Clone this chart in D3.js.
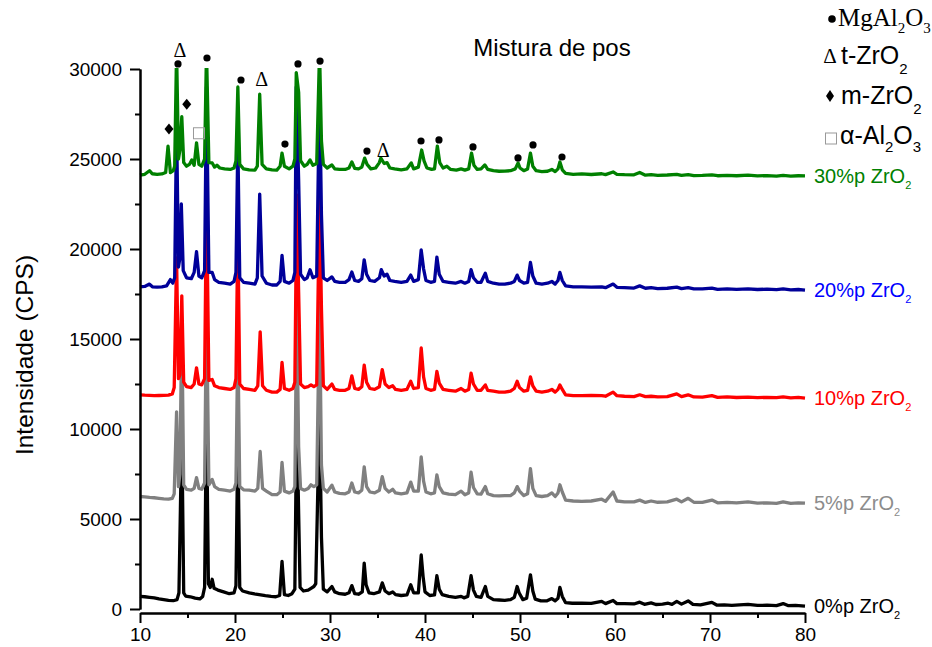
<!DOCTYPE html>
<html>
<head>
<meta charset="utf-8">
<script src="https://cdn.jsdelivr.net/npm/d3@7/dist/d3.min.js"></script>
<style>
body { margin: 0; background: #fff; }
</style>
</head>
<body>
<div id="chart"></div>
<script>
// 2theta / intensity pairs, one array per sample
var s0 = [[10.0,700],[10.5,680],[11,650],[11.5,620],[12,560],[12.5,520],[13,480],[13.5,460],[13.9,520],[14.1,900],[14.4,10000],[14.6,900],[14.8,720],[15.3,680],[15.8,600],[16.3,560],[16.6,700],[16.8,1200],[17.0,11000],[17.2,1400],[17.4,1200],[17.6,1650],[17.8,1150],[18.2,1050],[18.8,950],[19.4,850],[19.9,900],[20.1,1300],[20.3,9500],[20.5,1200],[20.8,1000],[21.5,900],[22.2,820],[22.7,780],[23.2,740],[23.8,700],[24.3,680],[24.7,750],[24.95,2650],[25.2,800],[25.6,750],[26.0,850],[26.3,1100],[26.5,11000],[26.7,5300],[26.85,1200],[27.2,1000],[27.7,1050],[28.0,1150],[28.3,1250],[28.5,1400],[28.9,11000],[29.1,4000],[29.3,1100],[29.7,950],[30.2,1250],[30.5,950],[31,850],[31.6,820],[32.0,900],[32.3,1300],[32.6,850],[33.0,820],[33.4,950],[33.6,2550],[33.8,1350],[34.1,900],[34.6,850],[35.2,950],[35.5,1450],[35.8,1000],[36.2,850],[36.6,950],[36.9,800],[37.5,750],[38.1,780],[38.5,1350],[38.8,900],[39.3,900],[39.6,3000],[39.8,1800],[40.0,950],[40.5,750],[41.0,780],[41.25,1850],[41.5,1100],[41.8,800],[42.5,700],[43.2,650],[43.8,700],[44.1,620],[44.5,700],[44.85,1850],[45.1,1050],[45.4,700],[45.9,650],[46.35,1250],[46.6,700],[47.2,520],[47.8,500],[48.4,480],[49.0,520],[49.4,650],[49.7,1250],[49.9,900],[50.3,520],[50.7,600],[51.1,1900],[51.35,1000],[51.6,550],[52.2,450],[52.8,450],[53.35,580],[53.7,450],[54.0,600],[54.2,1200],[54.45,700],[54.8,350],[55.5,320],[56.5,330],[57.5,310],[58.6,420],[59.0,300],[59.8,470],[60.2,300],[61.0,300],[62.0,280],[62.6,380],[63.1,260],[63.8,340],[64.3,250],[65.0,270],[65.6,320],[66.0,260],[66.5,420],[67.0,270],[67.7,450],[68.2,260],[69.0,230],[70.2,370],[70.7,220],[71.5,230],[72.3,200],[73.1,230],[74.0,260],[75.0,200],[76.0,210],[77.0,190],[77.7,300],[78.2,190],[79.0,200],[80.0,160]];

var s5 = [[10.0,6250],[10.5,6230],[11,6200],[11.5,6180],[12,6150],[12.5,6120],[13,6100],[13.4,6150],[13.6,6400],[13.85,10950],[14.05,6800],[14.2,7500],[14.4,16000],[14.6,6900],[14.9,6650],[15.4,6600],[15.7,6700],[15.95,7300],[16.2,6700],[16.5,6650],[16.8,7000],[17.0,17000],[17.25,6900],[17.6,7200],[17.85,6800],[18.3,6650],[18.9,6600],[19.5,6550],[19.9,6650],[20.1,7000],[20.3,15000],[20.5,6800],[20.9,6620],[21.5,6600],[22.1,6550],[22.4,6700],[22.65,8750],[22.9,6700],[23.3,6550],[23.9,6350],[24.4,6350],[24.75,6500],[24.95,8150],[25.2,6550],[25.7,6450],[26.1,6550],[26.3,6800],[26.5,17000],[26.7,9000],[26.9,6700],[27.3,6600],[27.7,6700],[28.0,6900],[28.3,6800],[28.6,6900],[28.9,17000],[29.1,8000],[29.3,6700],[29.7,6500],[30.2,6880],[30.5,6500],[31.0,6420],[31.6,6400],[32.0,6500],[32.3,7000],[32.6,6500],[33.0,6450],[33.35,6600],[33.6,7900],[33.85,6800],[34.2,6500],[34.7,6450],[35.2,6600],[35.5,7350],[35.8,6700],[36.2,6500],[36.6,6650],[36.9,6450],[37.5,6400],[38.1,6450],[38.5,7050],[38.8,6550],[39.3,6550],[39.6,8450],[39.85,7100],[40.1,6500],[40.6,6400],[41.0,6450],[41.25,7450],[41.5,6800],[41.9,6450],[42.5,6380],[43.2,6350],[43.8,6550],[44.2,6350],[44.6,6450],[44.85,7600],[45.1,6750],[45.5,6400],[45.9,6380],[46.35,6800],[46.6,6400],[47.2,6300],[47.8,6280],[48.4,6300],[49.0,6300],[49.4,6450],[49.7,6800],[49.95,6550],[50.4,6300],[50.8,6400],[51.1,7800],[51.35,6700],[51.7,6300],[52.3,6250],[52.9,6300],[53.35,6450],[53.7,6250],[54.0,6450],[54.2,6900],[54.45,6500],[54.8,6050],[55.6,6000],[56.5,5980],[57.5,6000],[58.6,6100],[59.0,5980],[59.8,6500],[60.2,6000],[61,5950],[62,5950],[62.6,6050],[63.2,5920],[63.8,6000],[64.5,5930],[65.5,5950],[66.5,6100],[67.0,5950],[67.7,6150],[68.3,5930],[69.2,5920],[70.2,6050],[70.8,5900],[71.8,5920],[72.8,5900],[74.0,5950],[75.0,5880],[76.0,5900],[77.0,5870],[77.7,5950],[78.5,5870],[79.3,5900],[80.0,5880]];

var s10 = [[10.0,11900],[10.5,11880],[11,11870],[11.5,11850],[12,11860],[12.5,11870],[13,11880],[13.4,11950],[13.6,12300],[13.85,19500],[14.05,12800],[14.2,13000],[14.4,17400],[14.6,12600],[14.9,12350],[15.4,12300],[15.7,12500],[15.95,13400],[16.2,12500],[16.5,12450],[16.8,12800],[17.0,23000],[17.25,12700],[17.6,12750],[17.85,12400],[18.3,12300],[18.9,12250],[19.5,12200],[19.9,12300],[20.1,12800],[20.3,21000],[20.5,12500],[20.9,12250],[21.5,12200],[22.1,12150],[22.4,12400],[22.65,15400],[22.9,12400],[23.3,12150],[23.9,12050],[24.4,12050],[24.75,12200],[24.95,13700],[25.2,12250],[25.7,12150],[26.1,12250],[26.3,12600],[26.5,23000],[26.7,17600],[26.9,12500],[27.3,12300],[27.7,12350],[28.0,12450],[28.3,12350],[28.6,12450],[28.9,23000],[29.1,16700],[29.3,12400],[29.7,12200],[30.2,12500],[30.5,12200],[31,12150],[31.6,12150],[32.0,12250],[32.3,12950],[32.6,12250],[33.0,12200],[33.35,12350],[33.6,13550],[33.85,12600],[34.2,12250],[34.7,12200],[35.2,12350],[35.5,13300],[35.8,12500],[36.2,12300],[36.6,12400],[36.9,12200],[37.5,12150],[38.1,12200],[38.5,12650],[38.8,12250],[39.3,12300],[39.6,14500],[39.85,12900],[40.1,12250],[40.6,12150],[41.0,12200],[41.25,13200],[41.5,12550],[41.9,12200],[42.5,12150],[43.2,12100],[43.8,12250],[44.2,12100],[44.6,12200],[44.85,13100],[45.1,12500],[45.5,12150],[45.9,12150],[46.35,12450],[46.6,12150],[47.2,12100],[47.8,12050],[48.4,12050],[49.0,12100],[49.4,12250],[49.7,12650],[49.95,12300],[50.4,12100],[50.8,12150],[51.1,12900],[51.35,12400],[51.7,12100],[52.3,12050],[52.9,12100],[53.35,12200],[53.7,12050],[54.0,12200],[54.2,12450],[54.45,12200],[54.8,11900],[55.6,11850],[56.5,11850],[57.5,11870],[58.6,11850],[59.0,11820],[59.8,12050],[60.2,11850],[61,11820],[62,11800],[62.6,11900],[63.2,11800],[63.8,11820],[64.5,11790],[65.5,11800],[66.5,11950],[67.0,11800],[67.7,11900],[68.3,11780],[69.2,11770],[70.2,11850],[70.8,11760],[71.8,11780],[72.8,11750],[74.0,11770],[75.0,11740],[76.0,11760],[77.0,11740],[77.7,11780],[78.5,11730],[79.3,11760],[80.0,11720]];

var s20 = [[10.0,17900],[10.5,17920],[11.0,18050],[11.3,17900],[11.8,17880],[12.3,17900],[12.8,17950],[13.2,18300],[13.45,18100],[13.65,18400],[13.85,27000],[14.05,19000],[14.2,19500],[14.35,22500],[14.55,18800],[14.9,18400],[15.4,18350],[15.7,18700],[15.95,19850],[16.2,18500],[16.5,18400],[16.8,18800],[17.0,29000],[17.25,18700],[17.6,18700],[17.85,18300],[18.3,18150],[18.9,18100],[19.5,18050],[19.9,18200],[20.1,18700],[20.3,26000],[20.5,18400],[20.9,18150],[21.5,18100],[22.1,18050],[22.35,18400],[22.6,23050],[22.85,18500],[23.3,18100],[23.9,18000],[24.4,18000],[24.75,18200],[24.95,19650],[25.2,18200],[25.7,18100],[26.1,18250],[26.3,18700],[26.45,29000],[26.7,23800],[26.9,18600],[27.3,18300],[27.6,18400],[27.9,18850],[28.2,18400],[28.6,18500],[28.9,29000],[29.1,21900],[29.3,18400],[29.7,18250],[30.2,18450],[30.5,18200],[31,18150],[31.6,18150],[32.0,18300],[32.3,18720],[32.6,18250],[33.0,18200],[33.35,18350],[33.6,19400],[33.85,18600],[34.2,18250],[34.7,18200],[35.2,18400],[35.4,18850],[35.7,18500],[36.0,18600],[36.3,18250],[36.8,18200],[37.5,18150],[38.1,18200],[38.5,18550],[38.8,18200],[39.3,18300],[39.6,19950],[39.85,18900],[40.1,18250],[40.6,18150],[41.0,18200],[41.25,19550],[41.5,18600],[41.9,18200],[42.5,18150],[43.2,18100],[43.8,18200],[44.2,18100],[44.6,18200],[44.85,18850],[45.1,18400],[45.5,18150],[45.9,18150],[46.35,18650],[46.6,18200],[47.2,18100],[47.8,18050],[48.4,18050],[49.0,18100],[49.4,18200],[49.7,18550],[49.95,18250],[50.4,18100],[50.8,18150],[51.1,19250],[51.35,18500],[51.7,18100],[52.3,18050],[52.9,18100],[53.35,18200],[53.7,18050],[54.0,18250],[54.2,18700],[54.45,18250],[54.8,17950],[55.6,17900],[56.5,17900],[57.5,17880],[58.6,17900],[59.0,17850],[59.8,18050],[60.2,17870],[61,17850],[62,17830],[62.6,17950],[63.2,17820],[63.8,17850],[64.5,17800],[65.5,17820],[66.5,17880],[67.0,17800],[67.7,17850],[68.3,17790],[69.2,17780],[70.2,17830],[70.8,17760],[71.8,17780],[72.8,17760],[74.0,17790],[75.0,17750],[76.0,17770],[77.0,17740],[77.7,17780],[78.5,17730],[79.3,17750],[80.0,17720]];

var s30 = [[10.0,24100],[10.5,24150],[11.0,24350],[11.3,24180],[11.8,24150],[12.3,24170],[12.7,24250],[12.95,25720],[13.2,24250],[13.5,24350],[13.65,24600],[13.85,31000],[14.05,25000],[14.2,25500],[14.4,27350],[14.6,24800],[14.9,24600],[15.2,24700],[15.45,24950],[15.7,24650],[15.95,25900],[16.2,24700],[16.5,24600],[16.8,25000],[17.0,31000],[17.25,24800],[17.6,24780],[17.85,24550],[18.1,24650],[18.4,24500],[18.9,24450],[19.5,24420],[19.9,24500],[20.1,24900],[20.3,29000],[20.5,24700],[20.9,24450],[21.5,24400],[22.1,24380],[22.35,24600],[22.6,28600],[22.85,24700],[23.3,24450],[23.9,24400],[24.4,24380],[24.75,24600],[24.95,25330],[25.2,24600],[25.7,24450],[26.1,24600],[26.3,25000],[26.45,29800],[26.7,28700],[26.9,24900],[27.3,24600],[27.6,24700],[27.9,24950],[28.2,24650],[28.6,24750],[28.9,31000],[29.1,26000],[29.3,24700],[29.7,24500],[30.2,24670],[30.5,24450],[31,24420],[31.6,24420],[32.0,24500],[32.3,24840],[32.6,24480],[33.0,24450],[33.35,24550],[33.65,25050],[33.9,24700],[34.3,24450],[34.8,24500],[35.2,24800],[35.35,25050],[35.7,24750],[36.0,24800],[36.3,24500],[36.8,24450],[37.5,24400],[38.1,24450],[38.55,24780],[38.8,24450],[39.3,24550],[39.65,25500],[39.9,24900],[40.2,24500],[40.7,24420],[41.0,24450],[41.3,25720],[41.55,24800],[41.9,24500],[42.3,24600],[42.7,24420],[43.3,24380],[43.8,24450],[44.2,24380],[44.6,24450],[44.9,25330],[45.15,24650],[45.5,24420],[45.9,24450],[46.3,24670],[46.6,24420],[47.2,24350],[47.8,24320],[48.4,24330],[49.0,24350],[49.5,24450],[49.8,24780],[50.0,24500],[50.4,24350],[50.8,24450],[51.1,25330],[51.35,24600],[51.7,24350],[52.3,24300],[52.9,24320],[53.35,24420],[53.7,24300],[54.0,24450],[54.2,24840],[54.45,24400],[54.8,24200],[55.6,24150],[56.5,24170],[57.5,24140],[58.6,24180],[59.0,24130],[59.8,24280],[60.2,24150],[61,24130],[62,24120],[62.6,24250],[63.2,24100],[63.8,24130],[64.5,24090],[65.5,24110],[66.5,24150],[67.0,24090],[67.7,24130],[68.3,24080],[69.2,24090],[70.2,24120],[70.8,24070],[71.8,24090],[72.8,24070],[74.0,24100],[75.0,24060],[76.0,24080],[77.0,24050],[77.7,24090],[78.5,24050],[79.3,24070],[80.0,24060]];

var seriesLabels = ["0%p ZrO", "5%p ZrO", "10%p ZrO", "20%p ZrO", "30%p ZrO"];
var lineColors = ["#000000", "#808080", "#ff0000", "#000099", "#008000"];
var labelColors = ["#000000", "#8c8c8c", "#ff0000", "#0000ff", "#008000"];

var xTicks = [10, 20, 30, 40, 50, 60, 70, 80];
var xMinor = [15, 25, 35, 45, 55, 65, 75];
var yTicks = [0, 5000, 10000, 15000, 20000, 25000, 30000];
var yMinor = [2500, 7500, 12500, 17500, 22500, 27500];

// phase markers above the 30% pattern (2theta, intensity)
var dotMarks = [[14.0,30280],[17.05,30610],[20.63,29390],[25.26,25830],[26.63,30280],[28.95,30440],[33.89,25440],[39.58,26000],[41.47,26060],[45.05,25670],[49.79,25060],[51.37,25780],[54.42,25110]];
var deltaMarks = [[14.21,31000],[22.81,29390],[35.61,25460]];
var diamondMarks = [[13.05,26670],[14.92,28040]];
var squareMarks = [[16.21,26430]];

function init() {
    var w = 932;
    var h = 647;
    var sans = "'Liberation Sans', Arial, sans-serif";
    var serif = "'Liberation Serif', 'Times New Roman', serif";

    var svg = d3.select("#chart")
                .append("svg")
                .attr("width", w)
                .attr("height", h);

    var xScale = d3.scaleLinear().domain([10, 80]).range([140, 805]);
    var yScale = d3.scaleLinear().domain([0, 30000]).range([609, 69]);

    svg.append("clipPath")
        .attr("id", "plotclip")
        .append("rect")
        .attr("x", 138)
        .attr("y", yScale(30000) - 1)
        .attr("width", 670)
        .attr("height", 560);

    var line = d3.line()
        .x(function(d) { return xScale(d[0]); })
        .y(function(d) { return yScale(d[1]); });

    var allSeries = [s0, s5, s10, s20, s30];

    // patterns, bottom one first so the upper ones sit on top
    svg.append("g")
        .attr("clip-path", "url(#plotclip)")
        .selectAll("path")
        .data(allSeries)
        .enter()
        .append("path")
        .attr("d", line)
        .attr("fill", "none")
        .attr("stroke", function(d, i) { return lineColors[i]; })
        .attr("stroke-width", 3.3)
        .attr("stroke-linejoin", "round");

    // series labels at right end
    allSeries.forEach(function(s, i) {
        var last = s[s.length - 1];
        var t = svg.append("text")
            .attr("x", xScale(last[0]) + 9)
            .attr("y", yScale(last[1]) + 7)
            .attr("fill", labelColors[i])
            .style("font-family", sans)
            .style("font-size", "20px");
        t.append("tspan").text(seriesLabels[i]);
        t.append("tspan").attr("dy", 6).style("font-size", "11px").text("2");
    });

    // axes
    var yAxis = d3.axisLeft(yScale).tickValues(yTicks).tickFormat(d3.format("d"))
        .tickSize(10).tickSizeOuter(0).tickPadding(8);
    var gy = svg.append("g").attr("transform", "translate(140,0)").call(yAxis);
    var yAxisMinor = d3.axisLeft(yScale).tickValues(yMinor).tickSize(5).tickSizeOuter(0).tickFormat("");
    var gy2 = svg.append("g").attr("transform", "translate(140,0)").call(yAxisMinor);

    var xAxis = d3.axisBottom(xScale).tickValues(xTicks).tickSize(10).tickSizeOuter(0).tickPadding(5);
    var gx = svg.append("g").attr("transform", "translate(0,613)").call(xAxis);
    var xAxisMinor = d3.axisBottom(xScale).tickValues(xMinor).tickSize(5).tickSizeOuter(0).tickFormat("");
    var gx2 = svg.append("g").attr("transform", "translate(0,613)").call(xAxisMinor);

    [gy, gy2, gx, gx2].forEach(function(g) {
        g.selectAll("path, line").attr("stroke", "#000").attr("stroke-width", 2);
        g.selectAll("text").attr("fill", "#000").style("font-family", sans).style("font-size", "19px");
    });

    // titles
    svg.append("text")
        .attr("x", 552)
        .attr("y", 56)
        .attr("text-anchor", "middle")
        .style("font-family", sans)
        .style("font-size", "24px")
        .text("Mistura de pos");

    svg.append("text")
        .attr("text-anchor", "middle")
        .attr("transform", "translate(33,355)rotate(-90)")
        .style("font-family", sans)
        .style("font-size", "24.5px")
        .text("Intensidade (CPS)");

    // phase markers
    svg.selectAll("circle.mk")
        .data(dotMarks)
        .enter()
        .append("circle")
        .attr("class", "mk")
        .attr("cx", function(d) { return xScale(d[0]); })
        .attr("cy", function(d) { return yScale(d[1]); })
        .attr("r", 3.6)
        .attr("fill", "#000");

    svg.selectAll("text.delta")
        .data(deltaMarks)
        .enter()
        .append("text")
        .attr("class", "delta")
        .attr("x", function(d) { return xScale(d[0]); })
        .attr("y", function(d) { return yScale(d[1]) + 6; })
        .attr("text-anchor", "middle")
        .style("font-family", serif)
        .style("font-size", "20px")
        .text("\u0394");

    svg.selectAll("path.diamond")
        .data(diamondMarks)
        .enter()
        .append("path")
        .attr("class", "diamond")
        .attr("d", function(d) {
            var cx = xScale(d[0]), cy = yScale(d[1]);
            return "M" + cx + "," + (cy - 5.5) + "L" + (cx + 4.5) + "," + cy + "L" + cx + "," + (cy + 5.5) + "L" + (cx - 4.5) + "," + cy + "Z";
        })
        .attr("fill", "#000");

    svg.selectAll("rect.sq")
        .data(squareMarks)
        .enter()
        .append("rect")
        .attr("class", "sq")
        .attr("x", function(d) { return xScale(d[0]) - 5.5; })
        .attr("y", function(d) { return yScale(d[1]) - 5.5; })
        .attr("width", 11)
        .attr("height", 11)
        .attr("fill", "none")
        .attr("stroke", "#999")
        .attr("stroke-width", 1);

    // legend of phases, top right
    var leg = svg.append("g");
    leg.append("circle").attr("cx", 832).attr("cy", 19).attr("r", 3.8).attr("fill", "#000");
    var t1 = leg.append("text").attr("x", 838).attr("y", 26).style("font-family", serif).style("font-size", "25px");
    t1.append("tspan").text("MgAl");
    t1.append("tspan").attr("dy", 7).style("font-size", "15px").text("2");
    t1.append("tspan").attr("dy", -7).text("O");
    t1.append("tspan").attr("dy", 7).style("font-size", "15px").text("3");

    leg.append("text").attr("x", 830).attr("y", 63).attr("text-anchor", "middle")
        .style("font-family", serif).style("font-size", "21px").text("\u0394");
    var t2 = leg.append("text").attr("x", 841).attr("y", 64).style("font-family", sans).style("font-size", "25px");
    t2.append("tspan").text("t-ZrO");
    t2.append("tspan").attr("dy", 10).style("font-size", "15px").text("2");

    leg.append("path").attr("d", "M830,90L834,96L830,102L826,96Z").attr("fill", "#000");
    var t3 = leg.append("text").attr("x", 841).attr("y", 104).style("font-family", sans).style("font-size", "25px");
    t3.append("tspan").text("m-ZrO");
    t3.append("tspan").attr("dy", 10).style("font-size", "15px").text("2");

    leg.append("rect").attr("x", 825.5).attr("y", 133).attr("width", 11).attr("height", 11)
        .attr("fill", "none").attr("stroke", "#999").attr("stroke-width", 1);
    var t4 = leg.append("text").attr("x", 840).attr("y", 144).style("font-family", sans).style("font-size", "25px");
    t4.append("tspan").text("\u03b1-Al");
    t4.append("tspan").attr("dy", 8).style("font-size", "15px").text("2");
    t4.append("tspan").attr("dy", -8).text("O");
    t4.append("tspan").attr("dy", 8).style("font-size", "15px").text("3");
}
window.onload = init;
</script>
</body>
</html>
